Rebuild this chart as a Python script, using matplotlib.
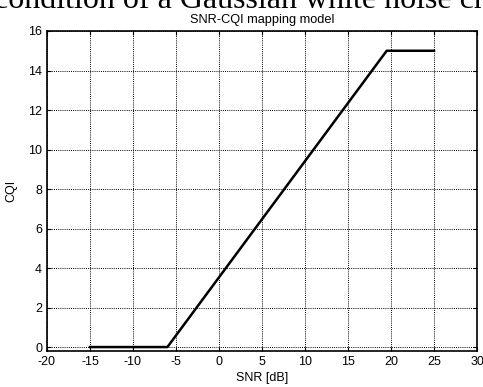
import matplotlib
matplotlib.use("Agg")
import matplotlib.pyplot as plt

snr = [-15, -6, 19.5, 25]
cqi = [0, 0, 15, 15]
xticks = [-20, -15, -10, -5, 0, 5, 10, 15, 20, 25, 30]
yticks = [0, 2, 4, 6, 8, 10, 12, 14, 16]

plt.rcParams['font.family'] = ['Liberation Sans', 'DejaVu Sans']
plt.rcParams['axes.unicode_minus'] = False
fig = plt.figure(figsize=(4.83, 3.87), dpi=100)
ax = fig.add_axes([47/483, 36/387, 430/483, 320/387])
ax.plot(snr, cqi, color='black', linewidth=1.8)
ax.set_xlim(-20, 30)
ax.set_ylim(-0.2, 16)
ax.set_xticks(xticks)
ax.set_yticks(yticks)
ax.tick_params(direction='in', length=3, labelsize=9, top=True, right=True, colors='black')
ax.grid(True, color='black', linestyle=(0, (1, 1.2)), linewidth=0.7)
for s in ax.spines.values():
    s.set_linewidth(1.2)
ax.set_xlabel('SNR [dB]', fontsize=9, labelpad=3)
ax.set_ylabel('CQI', fontsize=9, labelpad=8)
ax.set_title('SNR-CQI mapping model', fontsize=9.2, pad=6)
fig.text(-6/483, 1 - 8/387, 'condition of a Gaussian white noise channel',
         family=['Liberation Serif', 'DejaVu Serif'],
         fontsize=23, ha='left', va='baseline')
fig.savefig('out.png', dpi=100)
